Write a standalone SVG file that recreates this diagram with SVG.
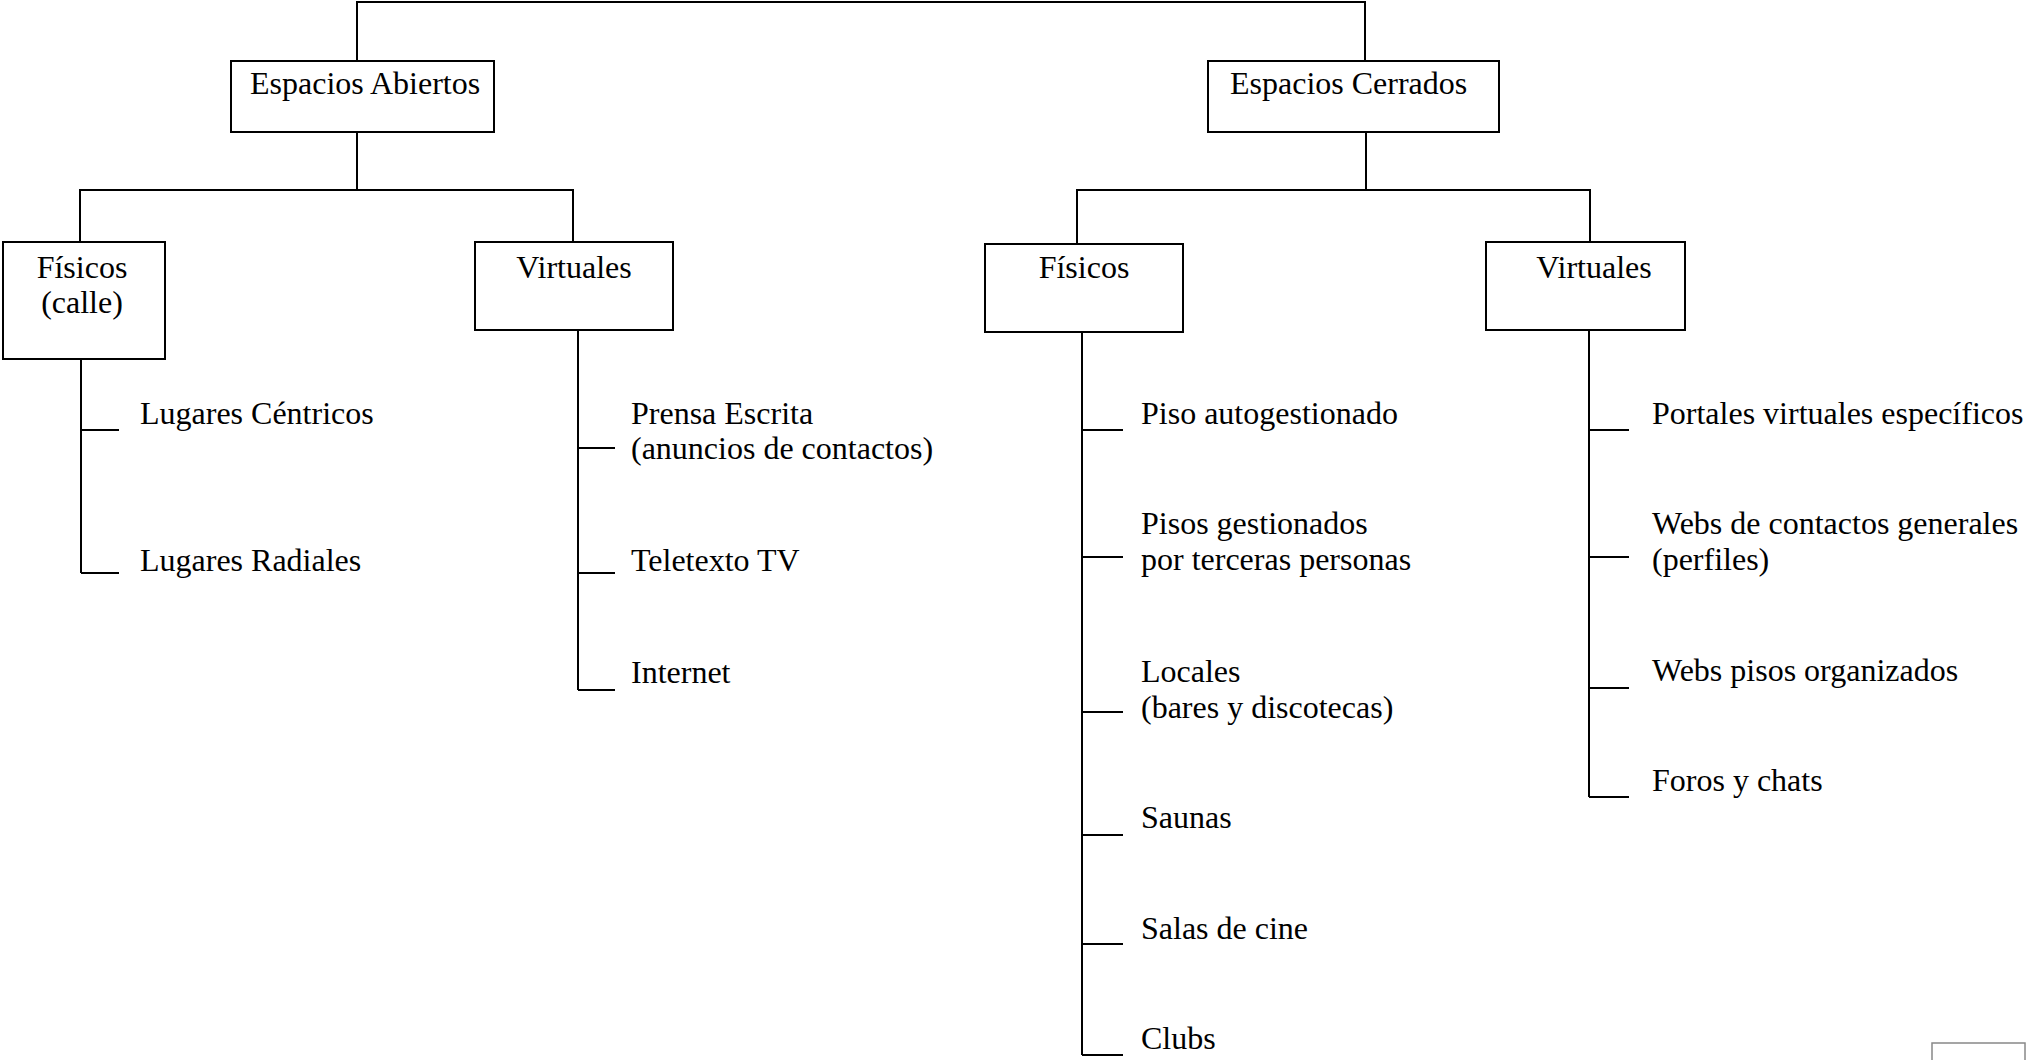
<svg xmlns="http://www.w3.org/2000/svg" width="2027" height="1060" viewBox="0 0 2027 1060">
<style>
.box{fill:#fff;stroke:#000;stroke-width:2}
.ln{fill:none;stroke:#000;stroke-width:2}
text{font-family:"Liberation Serif","Times New Roman",serif;font-size:32px;fill:#000}
.c{text-anchor:middle}
</style>
<rect width="2027" height="1060" fill="#fff"/>
<g id="connectors">
<path class="ln" d="M357,61 V2 H1365 V61"/>
<path class="ln" d="M357,132 V190 M80,242 V190 H573 V242"/>
<path class="ln" d="M1366,132 V190 M1077,244 V190 H1590 V242"/>
<path class="ln" d="M81,359 V573 M81,430 H119 M81,573 H119"/>
<path class="ln" d="M578,330 V690 M578,448 H615 M578,573 H615 M578,690 H615"/>
<path class="ln" d="M1082,332 V1055 M1082,430 H1123 M1082,557 H1123 M1082,712 H1123 M1082,835 H1123 M1082,944 H1123 M1082,1055 H1123"/>
<path class="ln" d="M1589,330 V797 M1589,430 H1629 M1589,557 H1629 M1589,688 H1629 M1589,797 H1629"/>
</g>
<g id="n-abiertos"><rect class="box" x="231" y="61" width="263" height="71"/><text x="250" y="94">Espacios Abiertos</text></g>
<g id="n-cerrados"><rect class="box" x="1208" y="61" width="291" height="71"/><text x="1230" y="94">Espacios Cerrados</text></g>
<g id="n-fisicos-calle"><rect class="box" x="3" y="242" width="162" height="117"/><text class="c" x="82" y="278">Físicos</text><text class="c" x="82" y="313">(calle)</text></g>
<g id="n-virtuales-a"><rect class="box" x="475" y="242" width="198" height="88"/><text class="c" x="574" y="278">Virtuales</text></g>
<g id="n-fisicos-c"><rect class="box" x="985" y="244" width="198" height="88"/><text class="c" x="1084" y="278">Físicos</text></g>
<g id="n-virtuales-c"><rect class="box" x="1486" y="242" width="199" height="88"/><text class="c" x="1594" y="278">Virtuales</text></g>
<g id="n-lugares-centricos"><text x="140" y="424">Lugares Céntricos</text></g>
<g id="n-lugares-radiales"><text x="140" y="571">Lugares Radiales</text></g>
<g id="n-prensa"><text x="631" y="424">Prensa Escrita</text><text x="631" y="459">(anuncios de contactos)</text></g>
<g id="n-teletexto"><text x="631" y="571">Teletexto TV</text></g>
<g id="n-internet"><text x="631" y="683">Internet</text></g>
<g id="n-piso-auto"><text x="1141" y="424">Piso autogestionado</text></g>
<g id="n-pisos-gest"><text x="1141" y="534">Pisos gestionados</text><text x="1141" y="570">por terceras personas</text></g>
<g id="n-locales"><text x="1141" y="682">Locales</text><text x="1141" y="718">(bares y discotecas)</text></g>
<g id="n-saunas"><text x="1141" y="828">Saunas</text></g>
<g id="n-salas"><text x="1141" y="939">Salas de cine</text></g>
<g id="n-clubs"><text x="1141" y="1049">Clubs</text></g>
<g id="n-portales"><text x="1652" y="424">Portales virtuales específicos</text></g>
<g id="n-webs-contactos"><text x="1652" y="534">Webs de contactos generales</text><text x="1652" y="570">(perfiles)</text></g>
<g id="n-webs-pisos"><text x="1652" y="681">Webs pisos organizados</text></g>
<g id="n-foros"><text x="1652" y="791">Foros y chats</text></g>
<rect x="1932" y="1043" width="93" height="30" fill="none" stroke="#888" stroke-width="1.5"/>
</svg>
